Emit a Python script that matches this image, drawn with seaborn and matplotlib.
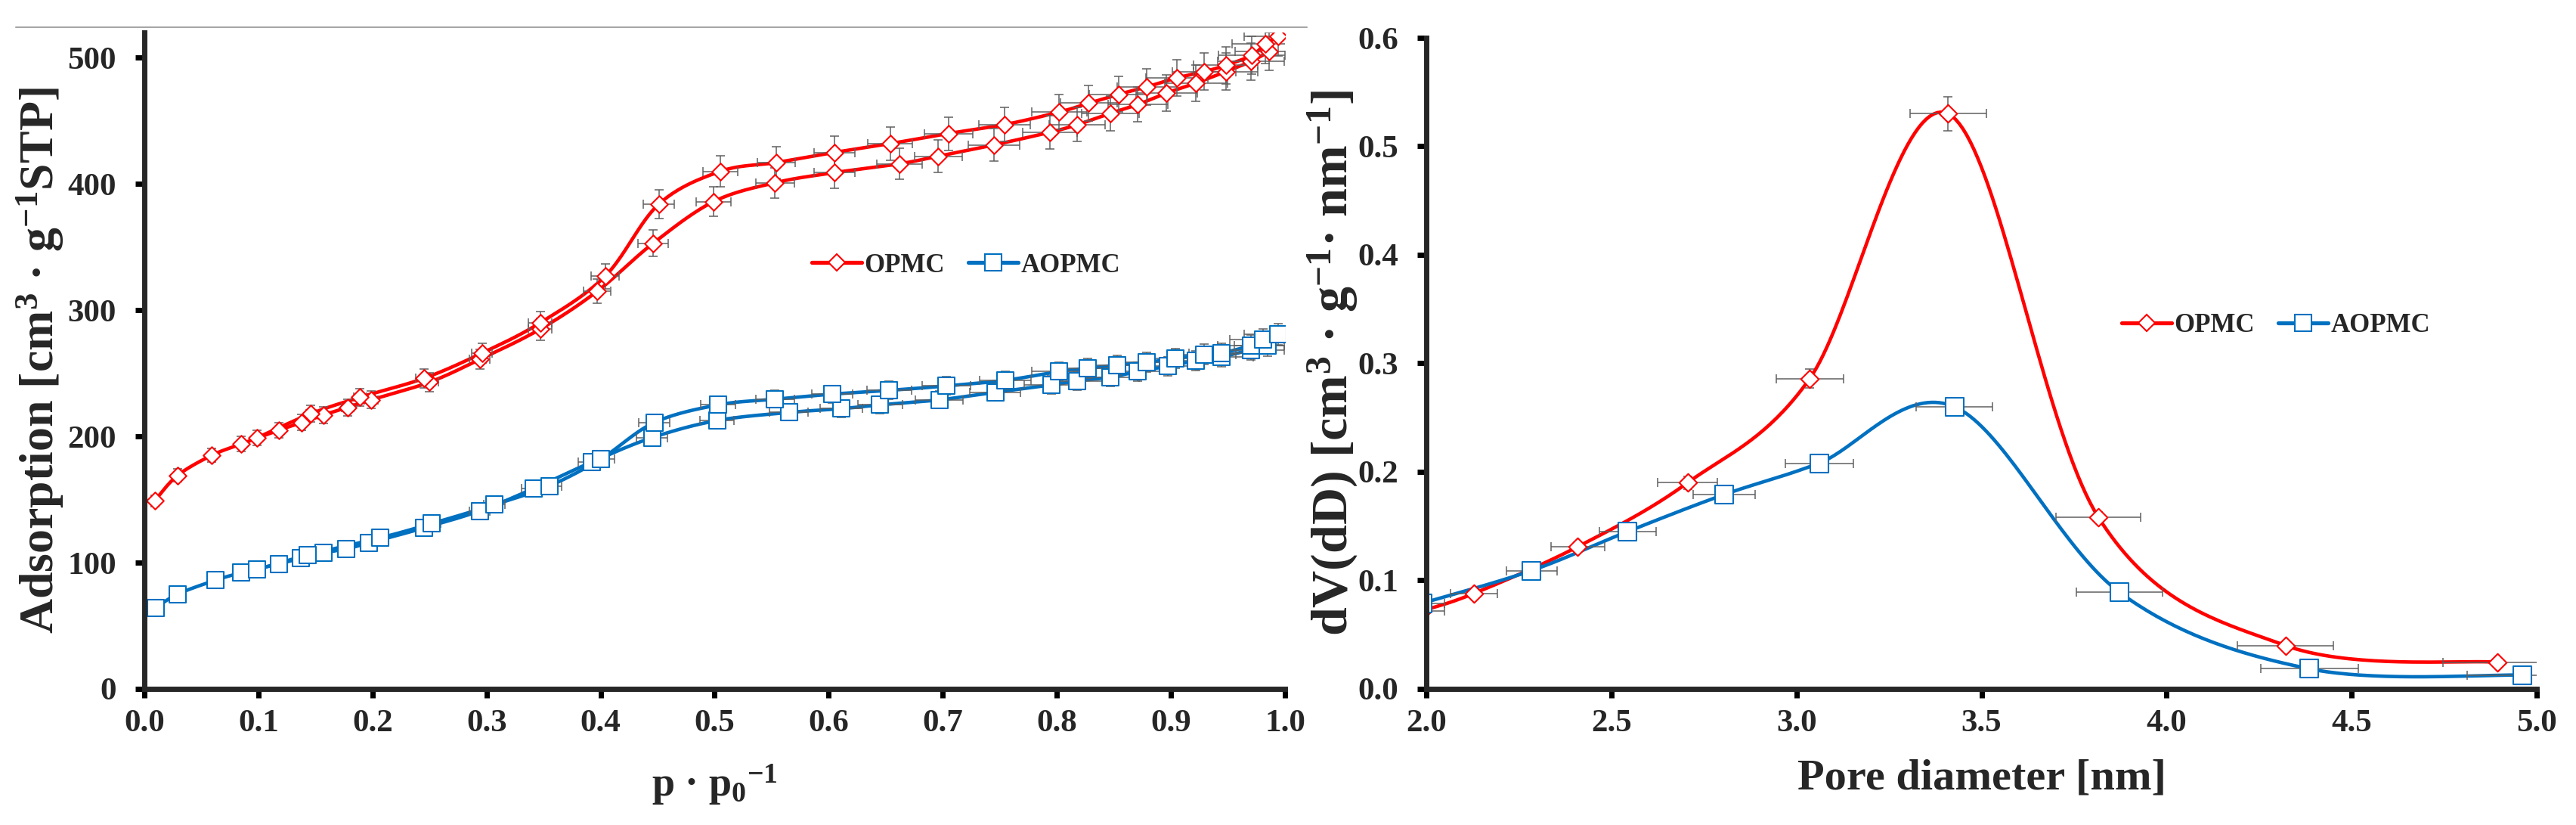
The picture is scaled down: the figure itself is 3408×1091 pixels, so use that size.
import numpy as np
import matplotlib.pyplot as plt
import seaborn as sns
from matplotlib.lines import Line2D
from matplotlib.ticker import FormatStrFormatter

# N2 isotherms (left panel), relative pressure vs adsorbed volume
opmc_ads_p = [0.009, 0.029, 0.059, 0.085, 0.118, 0.138, 0.157, 0.178, 0.199, 0.250, 0.294, 0.347,
              0.397, 0.446, 0.499, 0.553, 0.605, 0.662, 0.696, 0.745, 0.794, 0.818, 0.847, 0.871,
              0.896, 0.922, 0.948, 0.970, 0.986]
opmc_ads_v = [149, 169, 185, 194, 205, 211, 217, 223, 229, 243, 261, 285,
              315, 353, 386, 401, 409, 416, 422, 431, 441, 447, 456, 463,
              472, 480, 489, 497, 505]
opmc_des_p = [0.099, 0.146, 0.189, 0.245, 0.296, 0.347, 0.404, 0.451, 0.505, 0.554, 0.605, 0.654,
              0.705, 0.754, 0.802, 0.828, 0.854, 0.879, 0.905, 0.929, 0.948, 0.971, 0.983, 0.994]
opmc_des_v = [199, 218, 231, 246, 266, 290, 327, 384, 410, 417, 425, 432,
              440, 447, 457, 464, 471, 477, 484, 489, 494, 502, 511, 517]

aopmc_ads_p = [0.0097, 0.029, 0.062, 0.085, 0.118, 0.137, 0.157, 0.177, 0.197, 0.245, 0.294, 0.341,
               0.392, 0.445, 0.502, 0.565, 0.611, 0.645, 0.697, 0.746, 0.795, 0.818, 0.847, 0.871,
               0.897, 0.922, 0.944, 0.970, 0.985]
aopmc_ads_v = [64, 75, 86, 92, 99, 103.5, 107.6, 111, 115.6, 127.5, 141, 158.6,
               179.6, 199, 212.6, 219, 222, 225, 229, 235, 240.7, 244, 247, 251.5,
               255.6, 260, 263, 268.6, 272]
aopmc_des_p = [0.099, 0.143, 0.207, 0.252, 0.307, 0.355, 0.400, 0.447, 0.503, 0.553, 0.603, 0.653,
               0.703, 0.755, 0.802, 0.827, 0.853, 0.879, 0.904, 0.929, 0.944, 0.970, 0.981, 0.994]
aopmc_des_v = [94.6, 106, 119.7, 131, 146, 160.8, 182, 211, 225, 229.5, 233.5, 236.5,
               240, 244.5, 251.5, 254, 256.6, 258.7, 261.8, 265, 266, 272, 276.6, 281]

# pore size distribution (right panel)
opmc_d = [1.99, 2.129, 2.409, 2.706, 3.036, 3.410, 3.816, 4.321, 4.894]
opmc_dv = [0.072, 0.088, 0.131, 0.190, 0.286, 0.530, 0.158, 0.040, 0.0245]
aopmc_d = [1.99, 2.284, 2.544, 2.804, 3.061, 3.427, 3.873, 4.386, 4.961]
aopmc_dv = [0.079, 0.109, 0.145, 0.179, 0.208, 0.260, 0.089, 0.0185, 0.0127]

# percentage error bars (both directions)
err_pct = 3

RED = '#FF0000'
BLUE = '#0070C0'

sns.set_style("ticks")
plt.rcParams['font.family'] = ['Liberation Serif', 'DejaVu Serif']
plt.rcParams['font.weight'] = 'bold'
plt.rcParams['mathtext.fontset'] = 'custom'
plt.rcParams['mathtext.rm'] = 'Liberation Serif:bold'
plt.rcParams['mathtext.bf'] = 'Liberation Serif:bold'
plt.rcParams['mathtext.it'] = 'Liberation Serif:bold:italic'
plt.rcParams['mathtext.default'] = 'rm'


def smooth(x, y, n=40):
    # Excel-style smoothed line (Bezier through the points)
    P = np.column_stack([x, y]).astype(float)
    Pm = np.vstack([P[0], P, P[-1]])
    t = np.linspace(0, 1, n)[:, None]
    segs = []
    for i in range(len(P) - 1):
        p0, p1, p2, p3 = Pm[i], Pm[i + 1], Pm[i + 2], Pm[i + 3]
        c1 = p1 + (p2 - p0) / 6
        c2 = p2 - (p3 - p1) / 6
        segs.append((1 - t) ** 3 * p1 + 3 * (1 - t) ** 2 * t * c1 + 3 * (1 - t) * t ** 2 * c2 + t ** 3 * p2)
    s = np.vstack(segs)
    return s[:, 0], s[:, 1]


def draw(ax, x, y, color, marker, ms):
    x = np.asarray(x, float)
    y = np.asarray(y, float)
    sx, sy = smooth(x, y)
    sns.lineplot(x=sx, y=sy, ax=ax, color=color, lw=3.3, sort=False, estimator=None, zorder=2)
    ax.errorbar(x, y, xerr=x * err_pct / 100, yerr=y * err_pct / 100, fmt='none',
                ecolor='#606060', elinewidth=1.1, capsize=4.5, capthick=1.1, zorder=3)
    sns.scatterplot(x=x, y=y, ax=ax, marker=marker, s=ms ** 2, color='white',
                    edgecolor=color, linewidth=1.5, zorder=4)


fig = plt.figure(figsize=(34.08, 10.91), dpi=100)
ax1 = fig.add_axes([0.05604, 0.16499, 0.44279, 0.7956])
ax2 = fig.add_axes([0.55370, 0.16499, 0.43104, 0.78918])

draw(ax1, opmc_ads_p, opmc_ads_v, RED, 'D', 11.5)
draw(ax1, opmc_des_p, opmc_des_v, RED, 'D', 11.5)
draw(ax1, aopmc_ads_p, aopmc_ads_v, BLUE, 's', 16)
draw(ax1, aopmc_des_p, aopmc_des_v, BLUE, 's', 16)

draw(ax2, opmc_d, opmc_dv, RED, 'D', 12)
draw(ax2, aopmc_d, aopmc_dv, BLUE, 's', 17)

ax1.set_xlim(0, 1)
ax1.set_ylim(0, 520)
ax1.set_xticks(np.arange(0, 1.01, 0.1))
ax1.set_yticks(np.arange(0, 501, 100))
ax1.xaxis.set_major_formatter(FormatStrFormatter('%.1f'))
ax1.yaxis.set_major_formatter(FormatStrFormatter('%d'))

ax2.set_xlim(2, 5)
ax2.set_ylim(0, 0.6)
ax2.set_xticks(np.arange(2, 5.01, 0.5))
ax2.set_yticks(np.arange(0, 0.61, 0.1))
ax2.xaxis.set_major_formatter(FormatStrFormatter('%.1f'))
ax2.yaxis.set_major_formatter(FormatStrFormatter('%.1f'))

ax1.set_xlabel('p · p$_{0}$$^{-1}$', fontsize=39, fontweight='bold')
ax1.set_ylabel('Adsorption [cm$^{3}$ · g$^{-1}$STP]', fontsize=46, fontweight='bold')
ax2.set_xlabel('Pore diameter [nm]', fontsize=42, fontweight='bold')
ax2.set_ylabel('dV(dD) [cm$^{3}$ · g$^{-1}$· nm$^{-1}$]', fontsize=49, fontweight='bold')

ax1.xaxis.set_label_coords(0.5, -0.112)
ax2.xaxis.set_label_coords(0.5, -0.108)
ax1.yaxis.set_label_coords(-0.069, 0.5)
ax2.yaxis.set_label_coords(-0.059, 0.5)

for ax in (ax1, ax2):
    sns.despine(ax=ax)
    ax.spines['left'].set_linewidth(5)
    ax.spines['bottom'].set_linewidth(5)
    ax.spines['left'].set_zorder(6)
    ax.spines['bottom'].set_zorder(6)
    ax.tick_params(axis='both', direction='out', length=8.6, width=5, labelsize=31, color='black')
    ax.tick_params(axis='x', pad=11)
    ax.tick_params(axis='y', pad=18)
    for lab in ax.get_xticklabels() + ax.get_yticklabels():
        lab.set_fontweight('bold')
    ax.grid(False)

handles = [
    Line2D([], [], color=RED, lw=3.8, marker='D', ms=11, mfc='white', mec=RED, mew=1.5),
    Line2D([], [], color=BLUE, lw=3.8, marker='s', ms=16, mfc='white', mec=BLUE, mew=1.5),
]
names = ['OPMC', 'AOPMC']
leg_kw = dict(ncol=2, frameon=False, loc='center left', handlelength=1.9, handletextpad=0.1,
              columnspacing=0.9, borderpad=0, borderaxespad=0,
              prop={'size': 25, 'weight': 'bold'})
ax1.legend(handles, names, bbox_to_anchor=(0.585, 0.645), **leg_kw)
ax2.legend(handles, names, bbox_to_anchor=(0.626, 0.5575), **leg_kw)

# thin grey border line along the top of the left chart
fig.add_artist(Line2D([21 / 3408, 1729 / 3408], [1 - 36 / 1091, 1 - 36 / 1091],
                      transform=fig.transFigure, color='#a6a6a6', lw=1.5))

fig.savefig('out.png', dpi=100)
